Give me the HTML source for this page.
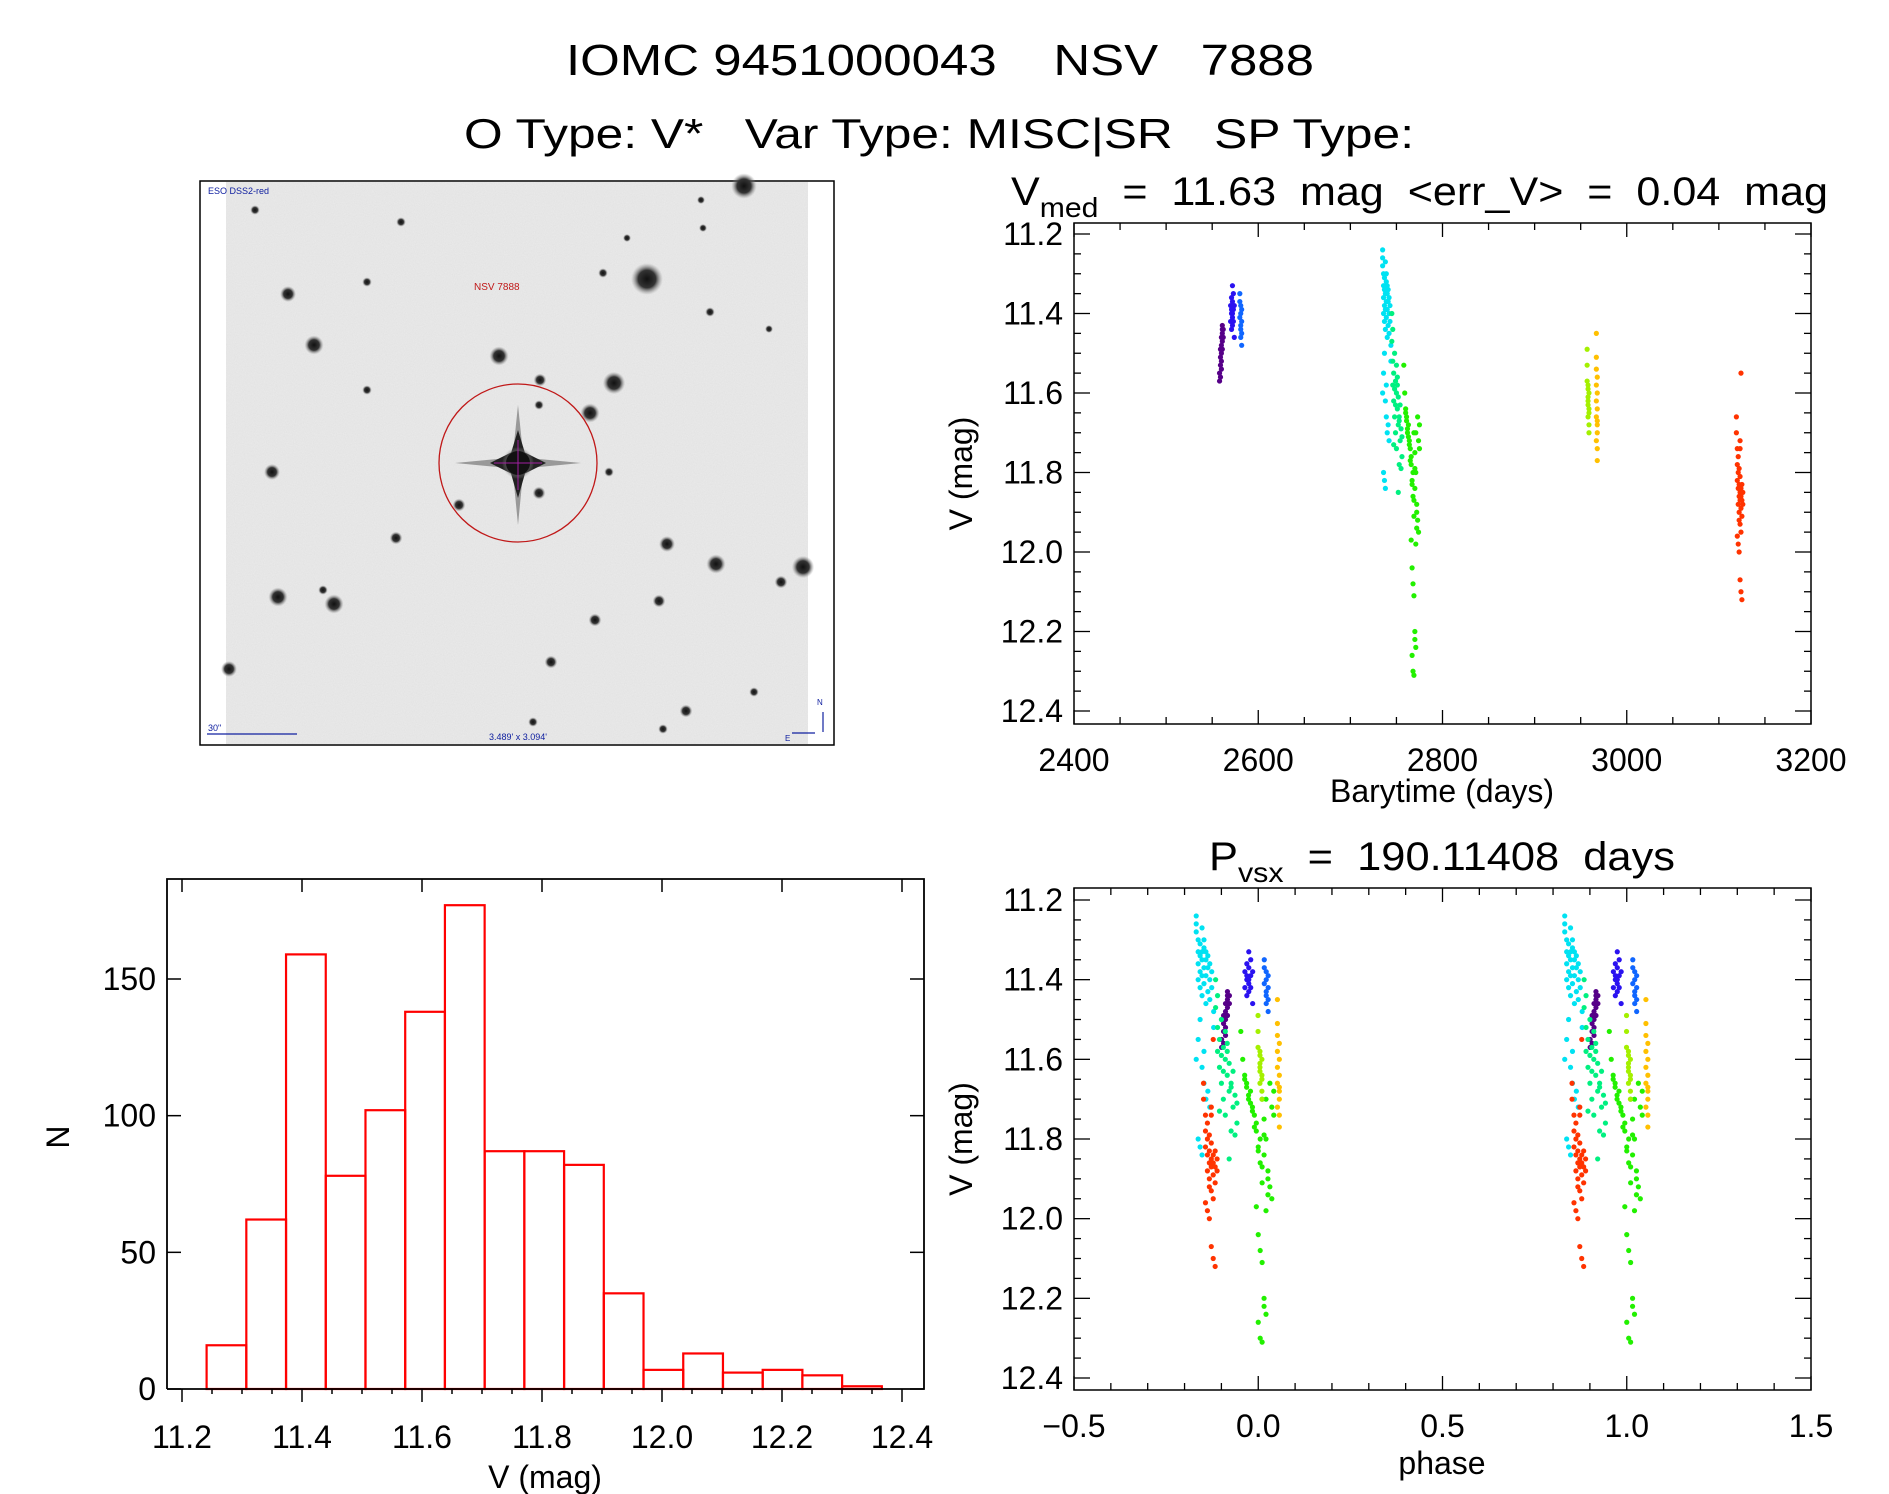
<!DOCTYPE html>
<html><head><meta charset="utf-8"><style>
html,body{margin:0;padding:0;background:#fff}
svg{display:block}
text{font-family:"Liberation Sans",sans-serif;fill:#000;white-space:pre}
</style></head><body>
<svg id="fig" xmlns="http://www.w3.org/2000/svg" width="1889" height="1494" viewBox="0 0 1889 1494">
<defs>
<filter id="grain" x="0" y="0" width="100%" height="100%">
<feTurbulence type="fractalNoise" baseFrequency="0.9" numOctaves="2" seed="3" result="n"/>
<feColorMatrix type="matrix" values="0 0 0 0 0.5  0 0 0 0 0.5  0 0 0 0 0.5  0 0 0 0.35 0"/>
</filter>
<radialGradient id="star"><stop offset="0" stop-color="#111"/><stop offset="0.55" stop-color="#333"/><stop offset="1" stop-color="#999" stop-opacity="0"/></radialGradient>
</defs>
<text x="940" y="75" font-size="44" text-anchor="middle" textLength="748" lengthAdjust="spacingAndGlyphs">IOMC 9451000043    NSV   7888</text>
<text x="939" y="148" font-size="42" text-anchor="middle" textLength="950" lengthAdjust="spacingAndGlyphs">O Type: V*   Var Type: MISC|SR   SP Type:</text>

<g id="sky">
<rect x="200" y="181" width="634" height="564" fill="#fff" stroke="#000" stroke-width="1.5"/>
<rect x="226" y="182" width="582" height="562" fill="#ebebeb"/>
<rect x="226" y="182" width="582" height="562" filter="url(#grain)" opacity="0.6"/>
<g id="stars"></g>
<polygon points="455,463 518,457 581,463 518,469" fill="#666" opacity="0.6"/>
<polygon points="518,405 524,463 518,525 512,463" fill="#666" opacity="0.6"/>
<polygon points="490,463 518,449 546,463 518,477" fill="#222"/>
<polygon points="518,430 528,463 518,498 508,463" fill="#222"/>
<circle cx="518" cy="463" r="16" fill="url(#star)"/>
<circle cx="518" cy="463" r="12" fill="#111"/>
<line x1="494" y1="463" x2="542" y2="463" stroke="#a020a0" stroke-width="1"/>
<line x1="518" y1="440" x2="518" y2="490" stroke="#a020a0" stroke-width="1"/>
<circle cx="518" cy="463" r="79" fill="none" stroke="#c01818" stroke-width="1.3"/>
<text x="208" y="194" font-size="9" style="fill:#1020a0">ESO DSS2-red</text>
<text x="474" y="290" font-size="10" style="fill:#c01818">NSV 7888</text>
<line x1="207" y1="734" x2="297" y2="734" stroke="#1020a0" stroke-width="1.3"/>
<text x="208" y="731" font-size="9" style="fill:#1020a0">30"</text>
<text x="518" y="740" font-size="9" text-anchor="middle" style="fill:#1020a0">3.489' x 3.094'</text>
<line x1="823" y1="712" x2="823" y2="732" stroke="#1020a0" stroke-width="1.2"/>
<line x1="792" y1="733" x2="815" y2="733" stroke="#1020a0" stroke-width="1.2"/>
<text x="817" y="705" font-size="8" style="fill:#1020a0">N</text>
<text x="785" y="741" font-size="8" style="fill:#1020a0">E</text>
</g>

<g id="lc"></g>
<g id="ph"></g>
<g id="hist"></g>
</svg>
<script>
// ---- data ----
const period = 190.11408;
const epoch = 2767;
const groupNames = ["purple","blue","azure","cyan","spring","green","ygreen","orange","red"];
const groupColors = ["#560088","#2a12f0","#1066ff","#00e2f2","#00f080","#22f000","#a4f000","#ffc000","#ff3300"];
const purpleT=[2558,2558,2559,2559,2559,2560,2560,2560,2560,2561,2561,2561,2561,2562,2562,2560,2559,2561];
const purpleV=[11.57,11.55,11.53,11.51,11.49,11.48,11.46,11.50,11.52,11.45,11.43,11.47,11.44,11.46,11.44,11.54,11.56,11.49];
const blueT=[2570,2570,2571,2571,2571,2572,2572,2572,2572,2573,2573,2573,2574,2574,2571,2572];
const blueV=[11.38,11.42,11.36,11.40,11.44,11.33,11.37,11.41,11.43,11.35,11.39,11.42,11.38,11.46,11.39,11.40];
const azureT=[2580,2580,2581,2581,2581,2581,2582,2582,2582,2581,2580,2582];
const azureV=[11.35,11.41,11.38,11.40,11.43,11.46,11.39,11.42,11.48,11.44,11.37,11.45];
const cyanT=[2735,2735,2735,2736,2736,2736,2736,2737,2737,2737,2737,2738,2738,2738,2738,2738,2739,2739,2739,2739,2740,2740,2740,2740,2741,2741,2741,2742,2742,2742,2743,2743,2735,2736,2737,2738,2739,2740,2741,2742,2737,2738,2736,2744,2744,2739];
const cyanV=[11.24,11.26,11.28,11.30,11.33,11.36,11.40,11.31,11.34,11.38,11.42,11.27,11.33,11.35,11.39,11.44,11.30,11.32,11.37,11.41,11.33,11.35,11.39,11.46,11.34,11.37,11.43,11.36,11.40,11.45,11.38,11.42,11.60,11.55,11.50,11.62,11.66,11.70,11.68,11.72,11.82,11.84,11.80,11.48,11.52,11.58];
const springT=[2745,2745,2746,2746,2747,2747,2748,2748,2749,2749,2750,2750,2751,2751,2752,2752,2753,2753,2754,2754,2755,2755,2756,2756,2748,2750,2752,2746,2749,2753,2751,2747];
const springV=[11.40,11.47,11.52,11.58,11.55,11.62,11.50,11.66,11.57,11.70,11.60,11.74,11.56,11.64,11.61,11.68,11.66,11.78,11.63,11.72,11.69,11.79,11.71,11.76,11.59,11.53,11.85,11.44,11.63,11.67,11.58,11.73];
const greenT=[2758,2759,2760,2761,2762,2763,2764,2765,2766,2767,2768,2769,2770,2771,2772,2773,2774,2775,2760,2762,2764,2766,2768,2770,2772,2774,2761,2763,2765,2767,2769,2771,2773,2775,2766,2767,2768,2769,2770,2771,2767,2768,2769,2770,2772,2769,2770,2771];
const greenV=[11.53,11.60,11.64,11.66,11.70,11.68,11.72,11.74,11.78,11.82,11.86,11.70,11.75,11.80,11.88,11.92,11.72,11.68,11.65,11.69,11.73,11.76,11.80,11.84,11.90,11.95,11.67,11.71,11.77,11.83,11.91,11.98,11.66,11.74,11.97,12.04,12.08,12.11,12.20,12.24,12.26,12.30,12.31,12.22,11.94,11.87,11.79,11.70];
const ygreenT=[2957,2957,2958,2958,2958,2958,2959,2959,2959,2959,2957,2958,2959,2958];
const ygreenV=[11.49,11.57,11.58,11.61,11.63,11.66,11.60,11.64,11.68,11.70,11.53,11.62,11.65,11.59];
const orangeT=[2967,2967,2967,2967,2967,2968,2968,2968,2968,2968,2968,2967,2968,2967,2968];
const orangeV=[11.45,11.51,11.54,11.58,11.62,11.56,11.60,11.64,11.67,11.70,11.74,11.72,11.77,11.66,11.68];
const redT=[3119,3119,3120,3120,3120,3121,3121,3121,3121,3122,3122,3122,3122,3123,3123,3123,3123,3124,3124,3124,3125,3125,3125,3126,3126,3120,3121,3122,3123,3124,3125,3124,3123,3122,3124,3123];
const redV=[11.66,11.70,11.74,11.78,11.82,11.76,11.80,11.84,11.88,11.79,11.83,11.86,11.90,11.81,11.85,11.87,11.93,11.84,11.86,11.89,11.83,11.87,11.91,11.85,11.88,11.96,11.98,12.00,12.07,12.10,12.12,11.55,11.72,11.92,11.95,11.74];
const groupTimes=[purpleT,blueT,azureT,cyanT,springT,greenT,ygreenT,orangeT,redT];
const groupMags=[purpleV,blueV,azureV,cyanV,springV,greenV,ygreenV,orangeV,redV];

const histEdgeStart = 11.241;
const histBinWidth = 0.0662;
const histCounts=[16,62,159,78,102,138,177,87,87,82,35,7,13,6,7,5,1];

const lcXTicks=[2400,2600,2800,3000,3200];
const phXTicks=[-0.5,0.0,0.5,1.0,1.5];
const magTicks=[11.2,11.4,11.6,11.8,12.0,12.2,12.4];
const histXTicks=[11.2,11.4,11.6,11.8,12.0,12.2,12.4];
const histYTicks=[0,50,100,150];

// ---- helpers ----
const NS="http://www.w3.org/2000/svg";
function mk(parent,tag,attrs,txt){const e=document.createElementNS(NS,tag);for(const k in attrs)e.setAttribute(k,attrs[k]);if(txt!==undefined)e.textContent=txt;parent.appendChild(e);return e;}
function lin(d0,d1,r0,r1){return v=>r0+(v-d0)/(d1-d0)*(r1-r0);}
function fmt(v,d){return v.toFixed(d).replace('-','\u2212');}

// ---- light curve ----
const L={x0:1074,x1:1811,y0:223,y1:724};
const lcX=lin(2400,3200,L.x0,L.x1), lcY=lin(11.2,12.4,234,711);
function magFrame(g,F,xs,ys,xMin,xMax,xMaj,xMinor,xDec,xt){
  const fr=mk(g,'rect',{x:F.x0,y:F.y0,width:F.x1-F.x0,height:F.y1-F.y0,fill:'none',stroke:'#000','stroke-width':1.5});
  
  
  for(let v=xMin;v<=xMax+1e-9;v+=xMinor){
    const maj=Math.abs(v/xMaj-Math.round(v/xMaj))<1e-6;const len=maj?14:7;const x=xs(v);
    mk(g,'line',{x1:x,y1:F.y1,x2:x,y2:F.y1-len,stroke:'#000','stroke-width':1.3});
    mk(g,'line',{x1:x,y1:F.y0,x2:x,y2:F.y0+len,stroke:'#000','stroke-width':1.3});
  }
  for(let v=11.2;v<=12.4+1e-9;v+=0.05){
    const maj=Math.abs(v/0.2-Math.round(v/0.2))<1e-6;const len=maj?16:7;const y=ys(v);
    mk(g,'line',{x1:F.x0,y1:y,x2:F.x0+len,y2:y,stroke:'#000','stroke-width':1.3});
    mk(g,'line',{x1:F.x1,y1:y,x2:F.x1-len,y2:y,stroke:'#000','stroke-width':1.3});
  }
  magTicks.forEach(v=>{const t=mk(g,'text',{x:1063,y:ys(v)+11,'font-size':32,'text-anchor':'end'},v.toFixed(1));
    
    });
  xt.forEach(v=>{const t=mk(g,'text',{x:xs(v),y:F.y1+47,'font-size':32,'text-anchor':'middle'},fmt(v,xDec));
    
    });
  const cy=(F.y0+F.y1)/2;
  const yl=mk(g,'text',{x:972,y:cy,'font-size':32,'text-anchor':'middle',transform:`rotate(-90 972 ${cy})`},'V (mag)');
  
  
}
const lc=document.getElementById('lc');
magFrame(lc,L,lcX,lcY,2400,3200,200,50,0,lcXTicks);
{const t=mk(lc,'text',{x:1442,y:802,'font-size':32,'text-anchor':'middle'},'Barytime (days)');

}
{const t=mk(lc,'text',{x:1011,y:205,'font-size':40,textLength:817,lengthAdjust:'spacingAndGlyphs'});


mk(t,'tspan',{},'V');mk(t,'tspan',{dy:12,'font-size':28},'med');mk(t,'tspan',{dy:-12},'  =  11.63  mag  <err_V>  =  0.04  mag');}

groupTimes.forEach((ts,gi)=>{
  const g=mk(lc,'g',{fill:groupColors[gi]});
  
  
  const vs=groupMags[gi];
  for(let i=0;i<Math.min(ts.length,vs.length);i++){
    const c=mk(g,'circle',{cx:lcX(ts[i]),cy:lcY(vs[i]),r:2.6});
    
    
  }
});

// ---- phase ----
const P={x0:1074,x1:1811,y0:888,y1:1390};
const phX=lin(-0.5,1.5,P.x0,P.x1), phY=lin(11.2,12.4,900,1378);
const ph=document.getElementById('ph');
magFrame(ph,P,phX,phY,-0.5,1.5,0.5,0.1,1,phXTicks);
{const t=mk(ph,'text',{x:1442,y:1474,'font-size':32,'text-anchor':'middle'},'phase');

}
{const t=mk(ph,'text',{x:1209,y:870,'font-size':40,textLength:466,lengthAdjust:'spacingAndGlyphs'});


mk(t,'tspan',{},'P');mk(t,'tspan',{dy:12,'font-size':28},'vsx');mk(t,'tspan',{dy:-12},'  =  190.11408  days');}
groupTimes.forEach((ts,gi)=>{
  const g=mk(ph,'g',{fill:groupColors[gi]});
  
  
  const vs=groupMags[gi];
  for(let i=0;i<Math.min(ts.length,vs.length);i++){
    let p=((ts[i]-epoch)/period)%1; if(p<0)p+=1; if(p>=0.8)p-=1;
    [p,p+1].forEach(pp=>{
      const c=mk(g,'circle',{cx:phX(pp),cy:phY(vs[i]),r:2.6});
      
      
    });
  }
});

// ---- histogram ----
const H={x0:167,x1:924,y0:879,y1:1389};
const hX=lin(11.2,12.4,182,902), hY=lin(0,150,1389,979);
const hg=document.getElementById('hist');
histCounts.forEach((n,i)=>{
  const a=histEdgeStart+i*histBinWidth,b=a+histBinWidth;
  const r=mk(hg,'rect',{x:hX(a),y:hY(n),width:hX(b)-hX(a),height:hY(0)-hY(n),fill:'none',stroke:'#ff0000','stroke-width':2.2});
  
  
});
{const fr=mk(hg,'path',{d:`M${H.x0} ${H.y1} V${H.y0} H${H.x1} V${H.y1} H${H.x0}`,fill:'none',stroke:'#000','stroke-width':1.8});

}
for(let v=11.2;v<=12.4+1e-9;v+=0.05){
  const maj=Math.abs(v/0.2-Math.round(v/0.2))<1e-6;const x=hX(v);
  mk(hg,'line',{x1:x,y1:H.y1,x2:x,y2:H.y1+(maj?13:5),stroke:'#000','stroke-width':1.5});
  if(maj) mk(hg,'line',{x1:x,y1:H.y0,x2:x,y2:H.y0+13,stroke:'#000','stroke-width':1.5});
}
histYTicks.forEach(v=>{const y=hY(v);
  mk(hg,'line',{x1:H.x0,y1:y,x2:H.x0+14,y2:y,stroke:'#000','stroke-width':1.5});
  mk(hg,'line',{x1:H.x1,y1:y,x2:H.x1-14,y2:y,stroke:'#000','stroke-width':1.5});
  const t=mk(hg,'text',{x:156,y:y+11,'font-size':32,'text-anchor':'end'},String(v));
  
  
});
histXTicks.forEach(v=>{const t=mk(hg,'text',{x:hX(v),y:1448,'font-size':32,'text-anchor':'middle'},v.toFixed(1));
  
  });
{const t=mk(hg,'text',{x:545,y:1488,'font-size':32,'text-anchor':'middle'},'V (mag)');


const n=mk(hg,'text',{x:58,y:1137,'font-size':32,'text-anchor':'middle',transform:'rotate(-90 58 1137)',dy:11},'N');

}

// ---- sky stars (image decoration) ----
const starList=[[744,186,8],[647,279,10],[288,294,5],[499,356,6],[314,345,6],[614,383,7],[590,413,6],[540,380,4],[272,472,5],[278,597,6],[334,604,6],[323,590,3],[667,544,5],[716,564,6],[803,567,7],[781,582,4],[659,601,4],[595,620,4],[551,662,4],[686,711,4],[754,692,3],[533,722,3],[663,729,3],[396,538,4],[459,505,4],[539,493,4],[609,472,3],[367,282,3],[367,390,3],[255,210,3],[401,222,3],[701,200,2.5],[703,228,2.5],[627,238,2.5],[603,273,3],[710,312,3],[769,329,2.5],[229,669,5],[539,405,3]];
const sg=document.getElementById('stars');
starList.forEach(s=>{const c=mk(sg,'circle',{cx:s[0],cy:s[1],r:s[2]*1.6,fill:'url(#star)'});
  
  });
</script>
</body></html>
